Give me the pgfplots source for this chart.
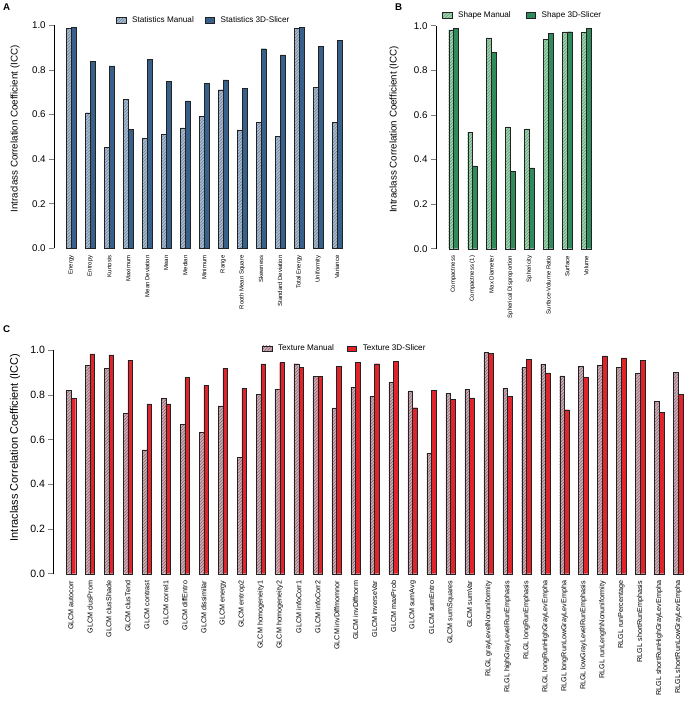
\documentclass[border=0pt]{standalone}
\usepackage{fontspec}
\setmainfont{Liberation Sans}
\usepackage{pgfplots}
\pgfplotsset{compat=1.18}
\usetikzlibrary{patterns.meta}

\definecolor{manAfill}{HTML}{AABDD2}
\definecolor{manAline}{HTML}{687F9C}
\definecolor{sliA}{HTML}{37608A}
\definecolor{manBfill}{HTML}{A4D3B2}
\definecolor{manBline}{HTML}{559C6D}
\definecolor{sliB}{HTML}{2F8B5A}
\definecolor{manCfill}{HTML}{D0B0B8}
\definecolor{manCline}{HTML}{86606A}
\definecolor{sliC}{HTML}{E0242C}
\definecolor{barline}{HTML}{222222}

\pgfplotsset{
  sw/.style={legend image code/.code={\draw[##1] (0bp,-2.8bp) rectangle (9.5bp,2.8bp);}},
  iccaxis/.style={
    scale only axis, enlargelimits=false,
    ymin=0, ymax=1, x=18.98bp,
    axis y line*=left, axis x line*=bottom,
    x axis line style={draw=none},
    xtick style={draw=none},
    y axis line style={line width=0.5pt},
    ytick={0,0.2,0.4,0.6,0.8,1},
    yticklabel style={/pgf/number format/fixed, /pgf/number format/fixed zerofill, /pgf/number format/precision=1, /pgf/number format/assume math mode=true},
    tick align=outside, major tick length=5bp,
    ytick style={line width=0.5pt},
    x tick label style={rotate=90, anchor=east, inner sep=2bp},
    ybar=0pt, bar width=0.25,
    clip=false, sw,
    legend columns=2,
    legend style={draw=none, fill=none, inner sep=0pt, nodes={inner sep=1bp},
      font=\fontsize{8.2}{10}\selectfont, at={(axis description cs:0,1)}, anchor=west},
  },
  manual/.style={fill=#1fill, draw=barline, line width=0.4pt,
     postaction={pattern={Lines[angle=45,distance=2.2pt,line width=0.55pt]}, pattern color=#1line}, sw},
  slicer/.style={fill=#1, draw=barline, line width=0.4pt, sw},
}

\begin{document}
\begin{tikzpicture}
\useasboundingbox (0,0) rectangle (686bp,-702bp);

% ---------------- Panel A ----------------
\begin{axis}[iccaxis, at={(54.2bp,-248.3bp)}, anchor=south west, y=223bp,
  xmin=-0.9, xmax=14.4,
  xtick={0,...,14},
  xticklabels={Energy,Entropy,Kurtosis,Maximum,Mean Deviation,Mean,Median,Minimum,Range,Rooth Mean Square,Skewness,Standard Deviation,Total Energy,Uniformity,Variance},
  x tick label style={font=\fontsize{6}{7}\selectfont},
  y tick label style={font=\fontsize{9.8}{11}\selectfont},
  ylabel={Intraclass Correlation Coefficient (ICC)},
  ylabel style={at={(axis description cs:0,0.535)}, anchor=center, yshift=39.2bp, font=\fontsize{9.8}{11}\selectfont},
  legend style={xshift=61.8bp, yshift=5bp, /tikz/every odd column/.append style={column sep=5bp}, /tikz/every even column/.append style={column sep=10bp}},
]
\addplot[manual=manA] coordinates {(0,0.985) (1,0.608) (2,0.454) (3,0.668) (4,0.493) (5,0.511) (6,0.540) (7,0.592) (8,0.711) (9,0.531) (10,0.565) (11,0.502) (12,0.985) (13,0.722) (14,0.565)};
\addplot[slicer=sliA] coordinates {(0,0.991) (1,0.837) (2,0.818) (3,0.534) (4,0.846) (5,0.750) (6,0.661) (7,0.741) (8,0.755) (9,0.716) (10,0.895) (11,0.867) (12,0.991) (13,0.906) (14,0.931)};
\legend{Statistics Manual, Statistics 3D-Slicer}
\end{axis}

% ---------------- Panel B ----------------
\begin{axis}[iccaxis, at={(436bp,-248.7bp)}, anchor=south west, y=223bp,
  xmin=-0.92, xmax=7.5,
  xtick={0,...,7},
  xticklabels={Compactness,Compactness (1),Max Diameter,Spherical Disproportion,Sphericity,Surface-Volume Ratio,Surface,Volume},
  x tick label style={font=\fontsize{6}{7}\selectfont},
  y tick label style={font=\fontsize{9.8}{11}\selectfont},
  ylabel={Intraclass Correlation Coefficient (ICC)},
  ylabel style={at={(axis description cs:0,0.535)}, anchor=center, yshift=42bp, font=\fontsize{9.8}{11}\selectfont},
  legend style={xshift=6bp, yshift=10.8bp, /tikz/every odd column/.append style={column sep=5bp}, /tikz/every even column/.append style={column sep=14bp}},
]
\addplot[manual=manB] coordinates {(0,0.981) (1,0.523) (2,0.945) (3,0.546) (4,0.537) (5,0.940) (6,0.972) (7,0.970)};
\addplot[slicer=sliB] coordinates {(0,0.987) (1,0.371) (2,0.880) (3,0.348) (4,0.363) (5,0.967) (6,0.973) (7,0.988)};
\legend{Shape Manual, Shape 3D-Slicer}
\end{axis}

% ---------------- Panel C ----------------
\begin{axis}[iccaxis, at={(53.5bp,-573.7bp)}, anchor=south west, y=223.4bp,
  xmin=-0.92, xmax=32.6,
  xtick={0,...,32},
  xticklabels={GLCM autocorr,GLCM clusProm,GLCM clusShade,GLCM clusTend,GLCM contrast,GLCM correl1,GLCM diffEntro,GLCM dissimilar,GLCM energy,GLCM entrop2,GLCM homogeneity1,GLCM homogeneity2,GLCM infoCorr1,GLCM infoCorr2,GLCM invDiffmomnor,GLCM invDiffnorm,GLCM inverseVar,GLCM maxProb,GLCM sumAvg,GLCM sumEntro,GLCM sumSquares,GLCM sumVar,RLGL grayLevelNonuniformity,RLGL highGrayLevelRunEmphasis,RLGL longRunEmphasis,RLGL longRunHighGrayLevEmpha,RLGL longRunLowGrayLevEmpha,RLGL lowGrayLevelRunEmphasis,RLGL runLengthNonuniformity,RLGL runPercentage,RLGL shortRunEmphasis,RLGL shortRunHighGrayLevEmpha,RLGL shortRunLowGrayLevEmpha},
  x tick label style={font=\fontsize{7.2}{8.5}\selectfont},
  y tick label style={font=\fontsize{10.6}{12}\selectfont},
  ylabel={Intraclass Correlation Coefficient (ICC)},
  ylabel style={at={(axis description cs:0,0.565)}, anchor=center, yshift=38.5bp, font=\fontsize{11}{13}\selectfont},
  legend style={xshift=208.5bp, yshift=1.8bp, /tikz/every odd column/.append style={column sep=5bp}, /tikz/every even column/.append style={column sep=12bp}},
]
\addplot[manual=manC] coordinates {(0,0.821) (1,0.933) (2,0.918) (3,0.719) (4,0.554) (5,0.784) (6,0.669) (7,0.633) (8,0.751) (9,0.521) (10,0.804) (11,0.825) (12,0.940) (13,0.882) (14,0.742) (15,0.834) (16,0.794) (17,0.858) (18,0.818) (19,0.539) (20,0.807) (21,0.825) (22,0.990) (23,0.830) (24,0.925) (25,0.936) (26,0.885) (27,0.928) (28,0.933) (29,0.924) (30,0.897) (31,0.772) (32,0.901)};
\addplot[slicer=sliC] coordinates {(0,0.784) (1,0.984) (2,0.979) (3,0.954) (4,0.760) (5,0.760) (6,0.879) (7,0.843) (8,0.918) (9,0.830) (10,0.939) (11,0.945) (12,0.924) (13,0.882) (14,0.928) (15,0.946) (16,0.940) (17,0.951) (18,0.743) (19,0.821) (20,0.781) (21,0.787) (22,0.987) (23,0.794) (24,0.961) (25,0.899) (26,0.734) (27,0.879) (28,0.975) (29,0.966) (30,0.955) (31,0.722) (32,0.803)};
\legend{Texture Manual, Texture 3D-Slicer}
\end{axis}

\node[anchor=north west, inner sep=0pt, font=\bfseries\fontsize{9.8}{11}\selectfont] at (3bp,-3.5bp) {A};
\node[anchor=north west, inner sep=0pt, font=\bfseries\fontsize{9.8}{11}\selectfont] at (395bp,-3.5bp) {B};
\node[anchor=north west, inner sep=0pt, font=\bfseries\fontsize{9.8}{11}\selectfont] at (3bp,-325bp) {C};
\end{tikzpicture}
\end{document}
